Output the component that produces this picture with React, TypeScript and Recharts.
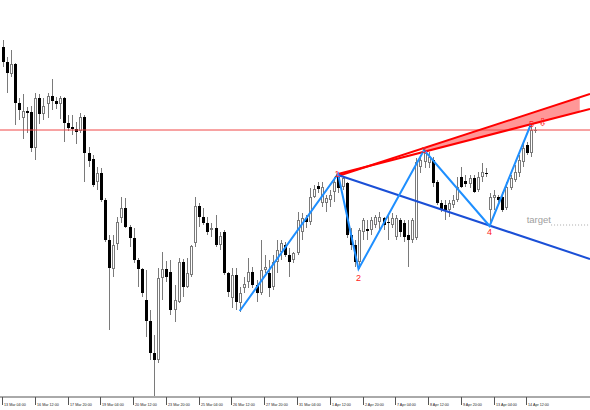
import React from 'react'
import {
  ComposedChart, Bar, Line, Area, XAxis, YAxis,
  ReferenceLine, ReferenceDot
} from 'recharts'

// H4 candles, price units are arbitrary (no price scale shown)
const opens = [
  353, 338, 326, 336, 297, 282, 289, 288, 252, 302, 286, 296, 304, 299, 296, 302, 277, 273, 271, 269,
  283, 247, 241, 218, 227, 200, 160, 131, 156, 182, 192, 173, 162, 140, 131, 100, 79, 47, 40, 122,
  131, 128, 90, 98, 138, 113, 125, 157, 194, 183, 177, 170, 172, 155, 168, 127, 102, 125, 97, 112,
  118, 128, 115, 107, 130, 127, 113, 138, 148, 155, 145, 140, 147, 168, 182, 178, 203, 214, 197, 197,
  200, 208, 225, 213, 217, 165, 155, 138, 168, 171, 170, 175, 178, 182, 178, 175, 163, 180, 177, 165,
  160, 162, 233, 238, 237, 240, 218, 197, 195, 190, 195, 200, 223, 219, 216, 222, 210, 223, 227, 190,
  202, 203, 203, 192, 212, 220, 227, 238, 255, 247, 269
]
const highs = [
  360, 343, 350, 337, 302, 306, 293, 294, 307, 306, 302, 307, 321, 303, 304, 303, 285, 285, 278, 287,
  285, 253, 245, 233, 232, 202, 165, 165, 183, 203, 202, 175, 172, 142, 132, 130, 90, 65, 132, 148,
  139, 140, 115, 142, 141, 142, 155, 203, 197, 192, 183, 177, 185, 168, 170, 128, 132, 132, 113, 123,
  142, 133, 120, 160, 145, 140, 145, 160, 160, 158, 152, 148, 188, 187, 185, 212, 215, 218, 218, 205,
  210, 223, 227, 224, 218, 172, 160, 172, 182, 180, 183, 185, 188, 183, 185, 187, 185, 182, 180, 180,
  182, 242, 245, 250, 248, 243, 220, 200, 200, 200, 205, 223, 233, 225, 225, 225, 228, 237, 232, 207,
  210, 205, 208, 218, 225, 235, 245, 258, 258, 275, 273
]
const lows = [
  333, 307, 323, 275, 280, 261, 267, 248, 240, 276, 280, 282, 290, 291, 281, 258, 269, 265, 256, 267,
  218, 233, 213, 210, 198, 158, 70, 123, 150, 177, 172, 153, 137, 113, 103, 63, 40, 4, 37, 100,
  118, 85, 78, 97, 103, 112, 123, 153, 173, 175, 165, 163, 153, 150, 125, 103, 92, 90, 88, 107,
  112, 112, 98, 105, 127, 103, 110, 127, 140, 143, 123, 137, 145, 160, 172, 175, 202, 207, 193, 188,
  193, 198, 207, 210, 162, 150, 133, 131, 160, 160, 165, 172, 168, 170, 160, 172, 160, 163, 158, 133,
  157, 160, 227, 232, 232, 213, 195, 188, 180, 183, 192, 198, 212, 213, 212, 207, 208, 218, 223, 177,
  190, 198, 188, 190, 210, 218, 223, 233, 245, 243, 267
]
const closes = [
  338, 327, 336, 297, 290, 289, 287, 252, 302, 286, 294, 304, 299, 296, 302, 277, 272, 271, 268, 283,
  247, 239, 215, 227, 200, 160, 132, 155, 178, 192, 173, 162, 140, 131, 107, 79, 47, 40, 122, 131,
  123, 90, 100, 138, 113, 127, 154, 194, 183, 177, 168, 172, 155, 164, 127, 108, 125, 98, 107, 116,
  128, 115, 107, 130, 133, 112, 138, 150, 157, 145, 138, 147, 180, 182, 178, 203, 211, 211, 213, 202,
  205, 218, 212, 222, 165, 155, 138, 170, 180, 169, 180, 183, 183, 175, 177, 182, 182, 168, 163, 160,
  180, 238, 240, 247, 243, 217, 197, 191, 190, 197, 200, 213, 213, 216, 222, 208, 223, 228, 226, 203,
  205, 200, 190, 213, 222, 228, 240, 252, 247, 270, 270
]

const tickIdx = [0, 8, 16, 24, 32, 40, 48, 56, 64, 72, 80, 88, 96, 104, 112, 120, 128]
const tickLabels = [
  '13 Mar 04:00', '16 Mar 12:00', '17 Mar 20:00', '19 Mar 04:00', '20 Mar 12:00', '23 Mar 20:00',
  '25 Mar 04:00', '26 Mar 12:00', '27 Mar 20:00', '31 Mar 04:00', '1 Apr 12:00', '2 Apr 20:00',
  '7 Apr 04:00', '8 Apr 12:00', '9 Apr 20:00', '13 Apr 04:00', '14 Apr 12:00'
]

// wolfe wave pivots 0..5
const wavePoints = [
  { i: 58, v: 89 }, { i: 82, v: 226 }, { i: 87, v: 131 },
  { i: 103, v: 250 }, { i: 119, v: 174 }, { i: 129, v: 275 }
]
const line14 = [{ i: 82, v: 225 }, { i: 143.5, v: 141 }]
const line13Upper = [{ i: 82, v: 224 }, { i: 143.5, v: 306 }]
const line13Lower = [{ i: 82, v: 226 }, { i: 143.5, v: 291 }]
const zoneBand = [{ i: 103, band: [248, 252] }, { i: 141, band: [288, 303] }]
const levelPrice = 270
const targetPrice = 175

const candles = opens.map((o, i) => ({ i, o, h: highs[i], l: lows[i], c: closes[i] }))

const WICK = '#7a7a7a'

const Candle = (props: any) => {
  const { x, y, width, height, payload } = props
  if (!payload || x == null) return null
  const top = Math.min(y, y + height)
  const bot = Math.max(y, y + height)
  const span = payload.h - payload.l
  const py = (v: number) => (span === 0 ? top : top + ((payload.h - v) / span) * (bot - top))
  const n = Math.round(x + width / 2)
  const bull = payload.c >= payload.o
  const yo = Math.round(py(Math.max(payload.o, payload.c)))
  const yb = Math.round(py(Math.min(payload.o, payload.c)))
  return (
    <g>
      <line x1={n + 0.5} x2={n + 0.5} y1={Math.round(top)} y2={Math.round(bot)} stroke={WICK} strokeWidth={1} />
      {bull ? (
        yb - yo > 1 ? (
          <rect x={n - 0.5} y={yo + 0.5} width={2} height={yb - yo - 1} fill="#fff" stroke={WICK} strokeWidth={1} />
        ) : (
          <rect x={n - 1} y={yo} width={3} height={1} fill={WICK} />
        )
      ) : (
        <rect x={n - 1} y={yo} width={3} height={Math.max(yb - yo, 1)} fill="#000" />
      )}
    </g>
  )
}

const AxisTick = (props: any) => {
  const { x, y, payload } = props
  const k = tickIdx.indexOf(payload.value)
  const tx = Math.round(x) + 0.5
  return (
    <g>
      <line x1={tx} x2={tx} y1={y} y2={y + 8} stroke="#555" strokeWidth={1} />
      <text x={tx + 1.5} y={y + 9} fontSize={3.7} fill="#222">{tickLabels[k]}</text>
    </g>
  )
}

const mark = (txt: string, dx: number, dy: number, size = 9) => (p: any) => (
  <text x={p.cx + dx} y={p.cy + dy} fontSize={size} fill="#ff2020" textAnchor="middle">{txt}</text>
)

export default function App() {
  return (
    <div style={{ position: 'absolute', left: 0, top: 0, width: 590, height: 410, background: '#fff' }}>
      <ComposedChart
        width={590}
        height={410}
        data={candles}
        margin={{ top: 0, right: 0, bottom: 0, left: 0 }}
        style={{ fontFamily: '"Liberation Sans", Arial, sans-serif' }}
      >
        <XAxis
          dataKey="i"
          type="number"
          domain={[-0.5, 143.5]}
          ticks={tickIdx}
          interval={0}
          tick={<AxisTick />}
          tickLine={false}
          tickSize={0}
          tickMargin={0}
          axisLine={{ stroke: '#555' }}
          height={13}
          allowDataOverflow
        />
        <YAxis hide type="number" domain={[3, 400]} width={0} allowDataOverflow />
        <Bar dataKey={(d: any) => [d.l, d.h]} barSize={3} shape={<Candle />} activeBar={false} isAnimationActive={false} />
        <ReferenceLine y={levelPrice} stroke="#f04646" strokeWidth={1} />
        <Area
          data={zoneBand}
          dataKey="band"
          type="linear"
          stroke="none"
          fill="#ff8c8c"
          fillOpacity={0.9}
          dot={false}
          activeDot={false}
          isAnimationActive={false}
        />
        <Line data={line13Upper} dataKey="v" type="linear" stroke="#ff0000" strokeWidth={2} dot={false} activeDot={false} isAnimationActive={false} />
        <Line data={line13Lower} dataKey="v" type="linear" stroke="#ff0000" strokeWidth={2} dot={false} activeDot={false} isAnimationActive={false} />
        <Line data={line14} dataKey="v" type="linear" stroke="#1a4fd6" strokeWidth={2} dot={false} activeDot={false} isAnimationActive={false} />
        <Line data={wavePoints} dataKey="v" type="linear" stroke="#1e8fff" strokeWidth={2} dot={false} activeDot={false} isAnimationActive={false} />
        <ReferenceLine
          segment={[{ x: 134, y: targetPrice }, { x: 143.5, y: targetPrice }]}
          stroke="#aaa"
          strokeDasharray="1 2"
        />
        <ReferenceDot x={131} y={180} r={0} shape={(p: any) => (
          <text x={p.cx} y={p.cy + 3} fontSize={9.5} fill="#a0a0a0" textAnchor="middle">target</text>
        )} />
        <ReferenceDot x={82} y={226} r={0} shape={mark('1', -1, 3)} />
        <ReferenceDot x={87} y={131} r={0} shape={mark('2', 0, 12)} />
        <ReferenceDot x={103} y={250} r={0} shape={mark('3', 0, 3)} />
        <ReferenceDot x={119} y={174} r={0} shape={mark('4', 0, 9)} />
        <ReferenceDot x={129} y={275} r={0} shape={mark('5', 1, 2)} />
        <ReferenceDot x={131.8} y={278} r={0} shape={mark('⇩', 0, 4, 11)} />
      </ComposedChart>
    </div>
  )
}
